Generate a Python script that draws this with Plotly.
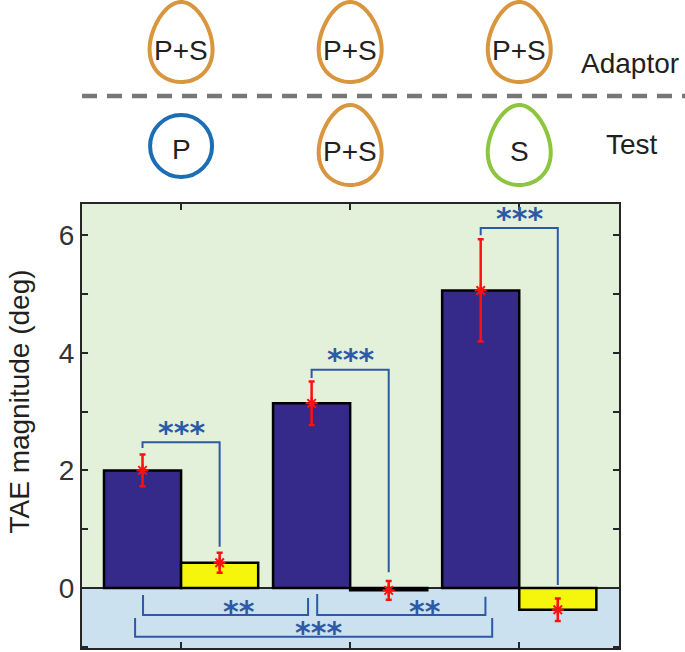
import numpy as np
import plotly.graph_objects as go

# ---------------- data ----------------
groups = [1, 2, 3]
adaptor_labels = ["P+S", "P+S", "P+S"]
test_labels = ["P", "P+S", "S"]

bar_a = [2.00, 3.14, 5.06]      # dark blue bars
err_a = [0.27, 0.37, 0.87]
bar_b = [0.43, -0.04, -0.37]    # yellow bars
err_b = [0.17, 0.16, 0.19]

# significance brackets above bars (between a and b of each group)
up_stars = ["***", "***", "***"]
up_top = [2.48, 3.71, 6.12]
up_left_end = [2.38, 3.57, 6.00]
up_right_end = [0.70, 0.27, 0.05]

# significance brackets below zero
lo_stars = ["**", "**", "***"]
lo_x_left = [0.775, 1.805, 0.728]
lo_x_right = [1.751, 2.800, 2.840]
lo_left_top = [-0.12, -0.10, -0.51]
lo_right_top = [-0.17, -0.15, -0.51]
lo_bottom = [-0.46, -0.46, -0.83]
lo_star_x = [1.34, 2.44, 1.81]

# ---------------- style ----------------
W, H = 685, 652
ML, MR, MT, MB = 82, 66, 204, 4
XR = [0.414, 3.59]
YR = [-1.02, 6.53]
bar_w = 0.456
FONT = "Liberation Sans, Arial, sans-serif"
STAR_FONT = "DejaVu Sans, sans-serif"
C_A = "#35298A"
C_B = "#F6F60C"
C_ERR = "#FF1010"
C_SIG = "#2C5AA6"
C_TXT = "#231F20"
C_AX = "#262626"

px_per_x = (W - ML - MR) / (XR[1] - XR[0])
plot_h = H - MT - MB

def py2paper(py):
    return (H - MB - py) / plot_h

fig = go.Figure()

x_a = [g - bar_w / 2 for g in groups]
x_b = [g + bar_w / 2 for g in groups]

fig.add_trace(go.Bar(x=groups, y=bar_a, width=bar_w, offset=-bar_w,
                     marker=dict(color=C_A, line=dict(color="black", width=2.5)),
                     showlegend=False))
fig.add_trace(go.Bar(x=groups, y=bar_b, width=bar_w, offset=0,
                     marker=dict(color=C_B, line=dict(color="black", width=2.5)),
                     showlegend=False))

star_font = dict(family=STAR_FONT, size=30, color=C_SIG, weight="bold")

# upper brackets
for i in range(3):
    fig.add_trace(go.Scatter(
        x=[x_a[i], x_a[i], x_b[i], x_b[i]],
        y=[up_left_end[i], up_top[i], up_top[i], up_right_end[i]],
        mode="lines", line=dict(color=C_SIG, width=2), showlegend=False,
        hoverinfo="skip"))
    fig.add_annotation(x=groups[i], y=up_top[i], yshift=10, text=up_stars[i],
                       showarrow=False, xanchor="center", yanchor="middle",
                       font=star_font)

# lower brackets
for i in range(3):
    fig.add_trace(go.Scatter(
        x=[lo_x_left[i], lo_x_left[i], lo_x_right[i], lo_x_right[i]],
        y=[lo_left_top[i], lo_bottom[i], lo_bottom[i], lo_right_top[i]],
        mode="lines", line=dict(color=C_SIG, width=2), showlegend=False,
        hoverinfo="skip"))
    fig.add_annotation(x=lo_star_x[i], y=lo_bottom[i], yshift=4, text=lo_stars[i],
                       showarrow=False, xanchor="center", yanchor="middle",
                       font=star_font)

# error bars with asterisk markers
for xs, ys, es in [(x_a, bar_a, err_a), (x_b, bar_b, err_b)]:
    fig.add_trace(go.Scatter(
        x=xs, y=ys, mode="markers",
        marker=dict(symbol="asterisk-open", size=10, color=C_ERR,
                    line=dict(color=C_ERR, width=2)),
        error_y=dict(type="data", array=es, visible=True, color=C_ERR,
                     thickness=2.5, width=3),
        showlegend=False))

shapes = []
# negative region background
shapes.append(dict(type="rect", xref="paper", yref="y", x0=0, x1=1, y0=YR[0], y1=0,
                   fillcolor="#CCE1EF", line=dict(width=0), layer="below"))

# header: eggs / circles
def egg_path(cx, cy_px, w_px, h_px, k=0.2):
    t = np.linspace(0, 2 * np.pi, 80)
    xs = np.cos(t) * (1 - k * np.sin(t))
    xs = xs / np.max(np.abs(xs)) * w_px / 2
    ys = np.sin(t) * h_px / 2
    pts = []
    for xx, yy in zip(xs, ys):
        pts.append(f"{cx + xx / px_per_x:.5f},{py2paper(cy_px - yy):.5f}")
    return "M " + " L ".join(pts) + " Z"

C_PS = "#D8963F"
C_P = "#1B6DB5"
C_S = "#8CC63F"
row_top_cy = 42
row_bot_cy = 145
egg_w, egg_h = 63, 80

for i, g in enumerate(groups):
    shapes.append(dict(type="path", xref="x", yref="paper",
                       path=egg_path(g, row_top_cy, egg_w, egg_h),
                       line=dict(color=C_PS, width=4)))
    fig.add_annotation(x=g, xref="x", y=py2paper(row_top_cy + 8), yref="paper",
                       text=adaptor_labels[i], showarrow=False,
                       xanchor="center", yanchor="middle",
                       font=dict(family=FONT, size=28, color=C_TXT))
    lab = test_labels[i]
    if lab == "P":
        r = 31
        shapes.append(dict(type="circle", xref="x", yref="paper",
                           x0=g - r / px_per_x, x1=g + r / px_per_x,
                           y0=py2paper(146 + r), y1=py2paper(146 - r),
                           line=dict(color=C_P, width=4)))
        ty = 149
    else:
        col = C_PS if lab == "P+S" else C_S
        shapes.append(dict(type="path", xref="x", yref="paper",
                           path=egg_path(g, row_bot_cy, egg_w, egg_h),
                           line=dict(color=col, width=4)))
        ty = 151
    fig.add_annotation(x=g, xref="x", y=py2paper(ty), yref="paper",
                       text=lab, showarrow=False,
                       xanchor="center", yanchor="middle",
                       font=dict(family=FONT, size=28, color=C_TXT))

# dashed separator
shapes.append(dict(type="line", xref="paper", yref="paper",
                   x0=0, x1=(W - ML) / (W - ML - MR),
                   y0=py2paper(96), y1=py2paper(96),
                   line=dict(color="#777777", width=4.5, dash="15px,10px")))

fig.add_annotation(x=(630 - ML) / (W - ML - MR), xref="paper", y=py2paper(64), yref="paper",
                   text="Adaptor", showarrow=False, xanchor="center", yanchor="middle",
                   font=dict(family=FONT, size=28, color=C_TXT))
fig.add_annotation(x=(632 - ML) / (W - ML - MR), xref="paper", y=py2paper(145), yref="paper",
                   text="Test", showarrow=False, xanchor="center", yanchor="middle",
                   font=dict(family=FONT, size=28, color=C_TXT))

# y-axis title
fig.add_annotation(x=(18.5 - ML) / (W - ML - MR), xref="paper", y=py2paper(402), yref="paper",
                   text="TAE magnitude (deg)", textangle=-90, showarrow=False,
                   xanchor="center", yanchor="middle",
                   font=dict(family=FONT, size=28, color=C_TXT))

fig.update_layout(
    width=W, height=H,
    margin=dict(l=ML, r=MR, t=MT, b=MB, pad=0),
    paper_bgcolor="white", plot_bgcolor="#E4F1DA",
    barmode="overlay",
    shapes=shapes,
    font=dict(family=FONT, size=28, color=C_TXT),
    xaxis=dict(range=XR, showline=True, linecolor=C_AX, linewidth=2, mirror="ticks",
               ticks="inside", tickvals=groups, showticklabels=False, ticklen=6,
               tickwidth=1.5, tickcolor=C_AX, showgrid=False, zeroline=False),
    yaxis=dict(range=YR, showline=True, linecolor=C_AX, linewidth=2, mirror="ticks",
               ticks="inside", tickvals=[0, 2, 4, 6], ticklen=6, tickwidth=1.5,
               tickcolor=C_AX, showgrid=False, zeroline=True, zerolinecolor=C_AX,
               zerolinewidth=1.5,
               tickfont=dict(family=FONT, size=28, color="#333333"),
               minor=dict(dtick=1, ticks="inside", ticklen=6, tickwidth=1.5,
                          tickcolor=C_AX, showgrid=False)),
)

fig.write_html("out.html", config={"displayModeBar": False},
               post_script="document.body.style.margin='0px';document.body.style.overflow='hidden';")
